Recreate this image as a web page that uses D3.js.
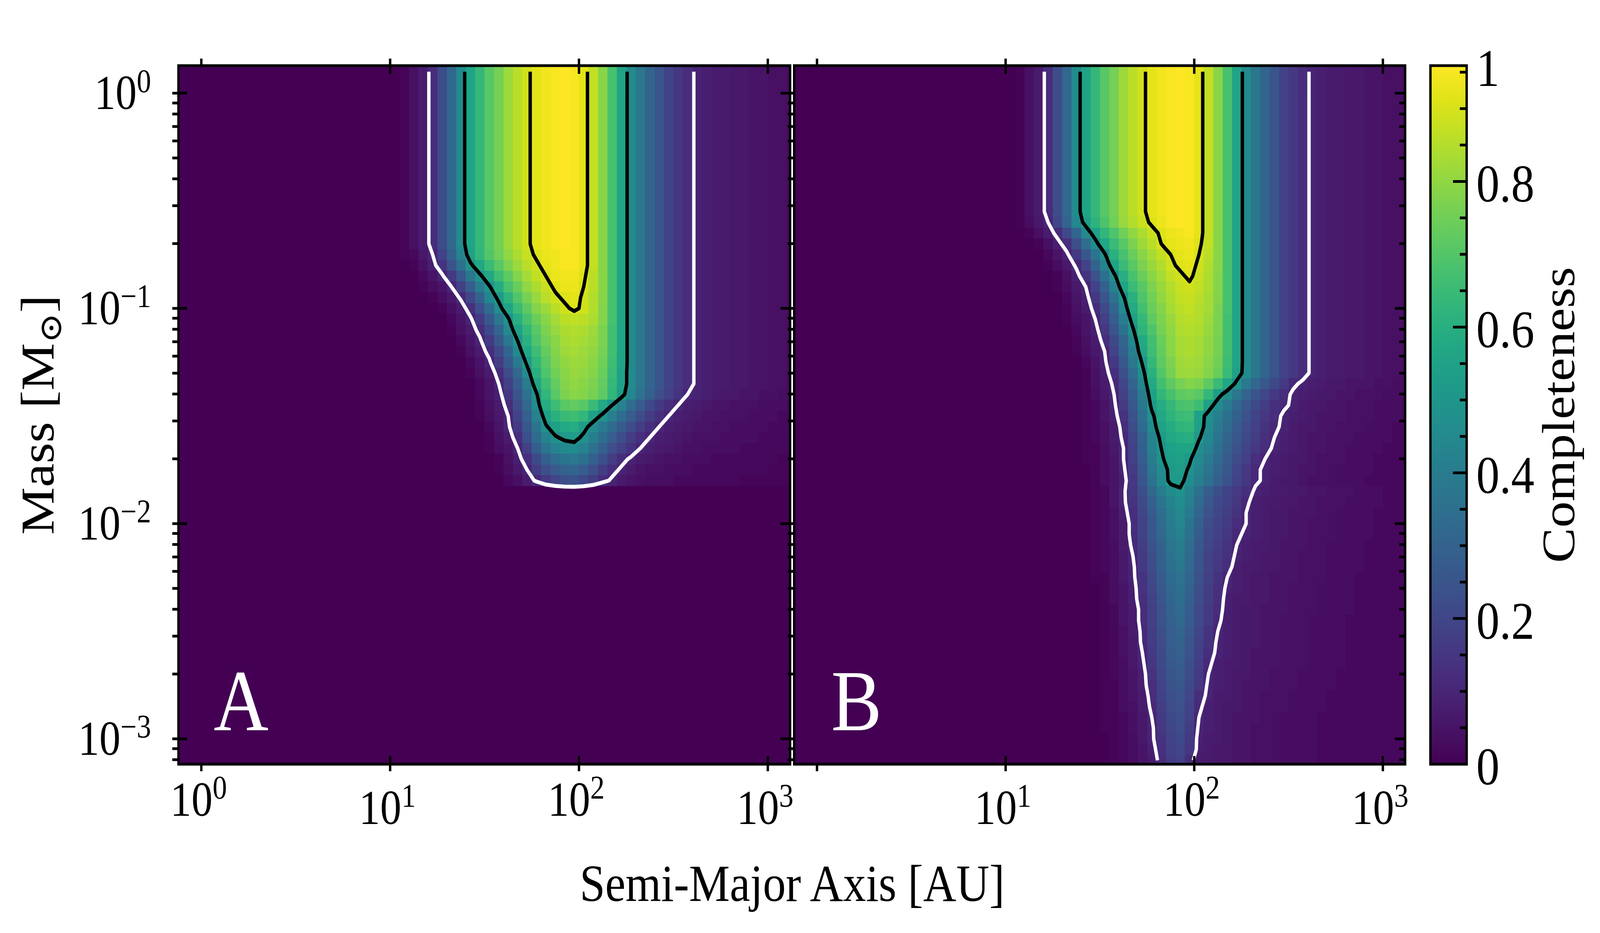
<!DOCTYPE html>
<html>
<head>
<meta charset="utf-8">
<script src="https://cdn.jsdelivr.net/npm/d3@7"></script>
<style>
  html, body { margin: 0; padding: 0; background: #fff; overflow: hidden; }
  svg { display: block; width: 100vw; height: 100vh; }
  text { font-family: "Liberation Serif", "DejaVu Serif", serif; }
</style>
</head>
<body>
<svg id="chart" viewBox="0 0 4680 2388" preserveAspectRatio="none"></svg>
<script>
// completeness grid, values in percent
// columns: semi-major axis bins of 0.05 dex starting at log10(a) = 0.95 (44 bins)
// rows: mass bins of 0.05 dex starting at log10(M) = 0.125 going down (65 bins)
var logAStart = 0.95, logMassTop = 0.125, binStep = 0.05;

var topRow = [0,0,1,4,7,12,22,32,46,56, 64,71,76,82,86,89,92,94,95,96, 95,92,87,79,68,56,46,38,31,25, 19,15,12,9,8,7,7,6,6,5, 5,4,4,3];
var emptyRow = [0,0,0,0,0,0,0,0,0,0, 0,0,0,0,0,0,0,0,0,0, 0,0,0,0,0,0,0,0,0,0, 0,0,0,0,0,0,0,0,0,0, 0,0,0,0];

// panel A: top block, knee rows (-0.75 .. -1.80), empty block below
var rowsA = [
  topRow,
  [0,0,1,2,6,10,19,29,42,55, 63,70,75,80,84,88,91,93,94,95, 95,92,87,79,68,56,46,38,31,25, 19,15,12,9,8,7,7,6,6,5, 5,4,4,3],
  [0,0,0,1,4,8,14,24,35,48, 57,65,71,77,82,86,89,92,94,95, 95,92,87,79,68,56,46,38,31,25, 19,15,12,9,8,7,7,6,6,5, 5,4,4,3],
  [0,0,0,0,2,5,9,16,26,38, 48,57,66,72,78,83,87,90,93,94, 94,91,86,79,68,56,46,38,31,25, 19,15,12,9,8,7,7,6,6,5, 5,4,4,3],
  [0,0,0,0,1,3,5,10,18,28, 40,49,59,68,74,80,84,88,91,93, 93,90,86,79,68,56,46,38,31,25, 19,15,12,9,8,7,7,6,6,5, 5,4,4,3],
  [0,0,0,0,0,1,3,6,11,20, 30,44,52,62,70,76,81,86,89,91, 92,89,85,79,68,56,46,38,31,25, 19,15,12,9,8,7,7,6,6,5, 5,4,4,3],
  [0,0,0,0,0,0,1,4,7,13, 23,33,47,56,65,72,78,82,86,89, 91,89,85,78,68,56,46,38,31,25, 19,15,12,9,8,7,7,6,6,5, 5,4,4,3],
  [0,0,0,0,0,0,0,2,5,9, 16,26,38,49,60,68,74,79,83,86, 87,86,84,78,68,56,46,38,31,25, 19,15,12,9,8,7,7,6,6,5, 5,4,4,3],
  [0,0,0,0,0,0,0,1,4,7, 12,21,31,45,55,64,71,77,81,84, 85,84,82,77,67,56,46,38,31,25, 19,15,12,9,8,7,7,6,6,5, 5,4,4,3],
  [0,0,0,0,0,0,0,0,2,5, 9,16,26,38,50,61,69,75,79,83, 84,83,81,77,67,56,46,38,31,25, 19,15,12,9,8,7,7,6,6,5, 5,4,4,3],
  [0,0,0,0,0,0,0,0,1,4, 7,12,21,31,45,57,66,73,78,82, 83,82,80,76,67,56,46,38,31,25, 19,15,12,9,8,7,7,6,6,5, 5,4,4,3],
  [0,0,0,0,0,0,0,0,0,2, 5,9,17,27,39,52,63,71,77,80, 82,81,79,75,66,56,46,38,31,25, 19,15,12,9,8,7,7,6,6,5, 5,4,4,3],
  [0,0,0,0,0,0,0,0,0,1, 4,7,12,22,32,46,60,69,75,79, 81,80,78,74,65,55,46,38,31,25, 19,15,12,9,8,7,7,6,6,5, 5,4,4,3],
  [0,0,0,0,0,0,0,0,0,0, 2,5,10,18,28,40,56,66,73,78, 80,79,77,73,64,55,46,38,31,25, 19,15,12,9,8,7,7,6,6,5, 5,4,4,3],
  [0,0,0,0,0,0,0,0,0,0, 2,5,8,15,25,36,49,63,71,77, 79,78,76,72,63,53,44,36,29,23, 18,14,10,9,8,7,6,6,5,5, 4,4,3,3],
  [0,0,0,0,0,0,0,0,0,0, 1,4,7,12,22,32,46,59,66,71, 73,71,65,58,50,42,34,27,21,16, 12,10,8,7,6,5,5,4,4,4, 3,3,3,2],
  [0,0,0,0,0,0,0,0,0,0, 1,3,6,10,19,29,42,54,61,65, 66,63,55,48,41,34,28,22,17,13, 10,8,7,6,5,5,4,4,4,3, 3,3,2,2],
  [0,0,0,0,0,0,0,0,0,0, 0,2,5,9,16,26,37,49,55,58, 59,53,46,39,33,27,22,17,13,10, 8,7,6,5,5,4,4,3,3,3, 3,2,2,2],
  [0,0,0,0,0,0,0,0,0,0, 0,1,4,7,13,23,33,43,49,52, 53,48,41,34,28,22,17,13,10,8, 7,6,5,4,4,4,3,3,3,3, 2,2,2,2],
  [0,0,0,0,0,0,0,0,0,0, 0,1,3,5,10,18,28,37,42,45, 46,42,36,29,23,18,14,10,8,7, 6,5,4,4,3,3,3,3,2,2, 2,2,2,2],
  [0,0,0,0,0,0,0,0,0,0, 0,0,1,4,8,13,21,29,34,37, 38,35,29,23,17,12,9,7,6,5, 4,4,3,3,3,2,2,2,2,2, 2,2,1,1],
  [0,0,0,0,0,0,0,0,0,0, 0,0,1,3,6,10,17,23,27,30, 31,28,23,17,12,9,7,5,4,4, 3,3,3,2,2,2,2,2,2,2, 2,1,1,1],
  [0,0,0,0,0,0,0,0,0,0, 0,0,0,2,4,7,11,16,20,23, 24,21,17,12,9,6,5,4,3,3, 3,2,2,2,2,2,2,2,1,1, 1,1,1,1],
  emptyRow
];
var binsA = [17, 1,1,1,1,1,1,1,1,1,1,1, 1,1,1,1,1,1,1,1,1,1,1, 26];

// panel B: top block, then rows -0.60 .. -3.10
var rowsB = [
  topRow,
  [0,0,1,3,6,10,20,30,44,53, 62,69,75,81,85,88,91,93,95,96, 95,92,87,79,68,56,46,38,31,25, 19,15,12,9,8,7,7,6,6,5, 5,4,4,3],
  [0,0,0,1,4,7,12,21,31,45, 54,63,69,75,80,84,88,91,93,94, 95,92,87,79,68,56,46,38,31,25, 19,15,12,9,8,7,7,6,6,5, 5,4,4,3],
  [0,0,0,0,1,4,8,13,23,34, 47,57,65,71,77,82,86,90,92,93, 94,91,87,79,68,56,46,38,31,25, 19,15,12,9,8,7,7,6,6,5, 5,4,4,3],
  [0,0,0,0,0,2,5,9,16,26, 37,49,61,68,74,79,83,87,90,92, 93,90,86,79,68,56,46,38,31,25, 19,15,12,9,8,7,7,6,6,5, 5,4,4,3],
  [0,0,0,0,0,1,3,6,11,19, 30,43,56,65,71,77,81,85,89,91, 92,89,85,79,68,56,46,38,31,25, 19,15,12,9,8,7,7,6,6,5, 5,4,4,3],
  [0,0,0,0,0,0,1,4,8,14, 24,35,48,60,68,74,79,83,87,89, 91,88,84,78,68,56,46,38,31,25, 19,15,12,9,8,7,7,6,6,5, 5,4,4,3],
  [0,0,0,0,0,0,1,3,6,10, 19,29,42,56,65,71,77,81,85,88, 89,87,84,78,68,56,46,38,31,25, 19,15,12,9,8,7,7,6,6,5, 5,4,4,3],
  [0,0,0,0,0,0,0,2,5,8, 15,25,36,49,61,69,75,80,84,87, 88,86,83,78,68,56,46,38,31,25, 19,15,12,9,8,7,7,6,6,5, 5,4,4,3],
  [0,0,0,0,0,0,0,1,4,7, 12,21,31,45,58,67,74,78,83,86, 87,85,83,77,68,56,46,38,31,25, 19,15,12,9,8,7,7,6,6,5, 5,4,4,3],
  [0,0,0,0,0,0,0,1,3,5, 10,18,28,40,54,64,72,77,81,85, 86,85,82,77,67,56,46,38,31,25, 19,15,12,9,8,7,7,6,6,5, 5,4,4,3],
  [0,0,0,0,0,0,0,0,2,5, 8,15,25,36,49,62,69,76,80,84, 85,84,81,77,67,56,46,38,31,25, 19,15,12,9,8,7,7,6,6,5, 5,4,4,3],
  [0,0,0,0,0,0,0,0,1,4, 7,12,21,31,45,58,67,74,79,83, 84,83,80,76,67,56,46,38,31,25, 19,15,12,9,8,7,7,6,6,5, 5,4,4,3],
  [0,0,0,0,0,0,0,0,1,3, 6,10,19,29,41,56,66,73,79,83, 84,83,80,76,67,56,46,38,31,25, 19,15,12,9,8,7,7,6,6,5, 5,4,4,3],
  [0,0,0,0,0,0,0,0,0,2, 5,9,16,26,38,51,64,72,77,82, 83,82,79,75,66,56,46,38,31,25, 19,15,12,9,8,7,7,6,6,5, 5,4,4,3],
  [0,0,0,0,0,0,0,0,0,1, 4,8,13,23,34,47,61,70,76,81, 82,81,78,74,65,55,46,38,31,25, 19,15,12,9,8,7,7,6,6,5, 5,4,4,3],
  [0,0,0,0,0,0,0,0,0,1, 4,7,11,20,31,44,58,67,72,76, 78,77,72,65,57,48,39,32,26,21, 16,11,9,8,7,6,6,5,5,5, 4,4,3,3],
  [0,0,0,0,0,0,0,0,0,1, 3,6,10,18,28,40,55,63,68,72, 73,71,64,53,46,38,31,25,20,16, 12,9,8,7,6,6,5,5,4,4, 4,3,3,3],
  [0,0,0,0,0,0,0,0,0,1, 2,5,9,16,26,38,52,59,64,68, 69,66,54,46,39,32,26,21,17,13, 11,9,7,6,6,5,5,4,4,4, 3,3,3,2],
  [0,0,0,0,0,0,0,0,0,1, 2,5,8,14,24,35,48,57,62,65, 66,54,47,41,35,29,24,19,15,12, 9,8,7,6,5,5,5,4,4,4, 3,3,3,2],
  [0,0,0,0,0,0,0,0,0,1, 2,4,7,12,22,33,46,55,59,62, 63,54,46,39,33,27,22,18,14,11, 9,7,6,6,5,5,4,4,4,3, 3,3,2,2],
  [0,0,0,0,0,0,0,0,0,1, 2,4,7,11,20,30,43,52,57,59, 60,51,44,37,31,26,21,17,13,10, 8,7,6,5,5,4,4,4,3,3, 3,3,2,2],
  [0,0,0,0,0,0,0,0,0,1, 1,3,6,10,19,29,42,50,54,56, 56,47,42,35,29,24,19,15,12,9, 8,7,6,5,5,4,4,3,3,3, 3,2,2,2],
  [0,0,0,0,0,0,0,0,0,1, 1,3,5,10,18,28,40,49,53,55, 51,45,39,33,27,22,18,13,10,8, 7,6,6,5,4,4,4,3,3,3, 2,2,2,2],
  [0,0,0,0,0,0,0,0,0,0, 1,3,5,9,16,26,38,46,52,53, 49,43,37,31,26,20,15,11,9,8, 7,6,5,5,4,4,3,3,3,3, 2,2,2,2],
  [0,0,0,0,0,0,0,0,0,0, 1,3,5,8,15,25,36,45,52,52, 47,41,35,29,24,19,15,11,9,7, 6,6,5,4,4,4,3,3,3,2, 2,2,2,2],
  [0,0,0,0,0,0,0,0,0,0, 1,2,5,9,15,23,32,40,46,49, 43,35,28,23,19,16,13,9,8,7, 7,6,6,5,5,4,4,4,3,3, 3,2,2,2],
  [0,0,0,0,0,0,0,0,0,0, 1,2,5,9,14,21,29,37,43,47, 41,33,26,21,18,15,11,8,7,7, 6,6,5,5,4,4,4,3,3,3, 3,2,2,2],
  [0,0,0,0,0,0,0,0,0,0, 1,2,4,8,13,20,27,34,41,45, 39,31,24,20,17,14,10,8,7,6, 6,5,5,5,4,4,3,3,3,3, 2,2,2,2],
  [0,0,0,0,0,0,0,0,0,0, 1,2,4,7,12,19,26,33,40,44, 37,29,22,19,16,12,10,8,7,6, 6,5,5,4,4,4,3,3,3,3, 2,2,2,2],
  [0,0,0,0,0,0,0,0,0,0, 1,2,4,7,12,19,26,32,39,42, 36,27,21,18,15,11,9,8,7,6, 6,5,5,4,4,4,3,3,3,3, 2,2,2,2],
  [0,0,0,0,0,0,0,0,0,0, 1,2,3,7,11,17,24,30,37,40, 34,26,20,17,14,10,8,7,7,6, 5,5,5,4,4,3,3,3,3,2, 2,2,2,2],
  [0,0,0,0,0,0,0,0,0,0, 1,2,3,6,10,16,23,29,36,39, 33,25,19,16,13,9,8,7,6,6, 5,5,4,4,4,3,3,3,3,2, 2,2,2,2],
  [0,0,0,0,0,0,0,0,0,0, 1,2,3,6,9,16,22,29,35,38, 32,25,19,15,12,8,7,7,6,6, 5,5,4,4,4,3,3,3,3,2, 2,2,2,2],
  [0,0,0,0,0,0,0,0,0,0, 1,1,3,6,9,14,21,27,33,36, 31,24,18,14,10,8,7,6,6,5, 5,5,4,4,4,3,3,3,2,2, 2,2,2,2],
  [0,0,0,0,0,0,0,0,0,0, 0,1,3,5,8,14,20,26,32,35, 30,23,17,13,9,8,7,6,6,5, 5,4,4,4,3,3,3,3,2,2, 2,2,2,2],
  [0,0,0,0,0,0,0,0,0,0, 0,1,3,5,8,13,19,25,31,34, 29,22,17,13,8,7,7,6,6,5, 5,4,4,4,3,3,3,3,2,2, 2,2,2,2],
  [0,0,0,0,0,0,0,0,0,0, 0,1,2,5,7,12,18,24,30,33, 28,21,16,12,8,7,6,6,5,5, 5,4,4,4,3,3,3,3,2,2, 2,2,2,2],
  [0,0,0,0,0,0,0,0,0,0, 0,1,2,5,7,12,18,24,29,32, 27,21,16,11,8,7,6,6,5,5, 4,4,4,3,3,3,3,2,2,2, 2,2,2,2],
  [0,0,0,0,0,0,0,0,0,0, 0,1,2,4,7,11,17,23,28,31, 26,20,14,10,8,7,6,6,5,5, 4,4,4,3,3,3,3,2,2,2, 2,2,2,2],
  [0,0,0,0,0,0,0,0,0,0, 0,1,2,4,6,11,17,22,28,30, 25,19,14,9,8,7,6,6,5,5, 4,4,4,3,3,3,3,2,2,2, 2,2,2,2],
  [0,0,0,0,0,0,0,0,0,0, 0,1,2,4,6,10,16,21,27,29, 24,18,12,9,8,7,6,5,5,5, 4,4,4,3,3,3,3,2,2,2, 2,2,2,2],
  [0,0,0,0,0,0,0,0,0,0, 0,1,2,3,6,9,15,21,26,28, 23,17,11,8,7,7,6,5,5,5, 4,4,4,3,3,3,3,2,2,2, 2,2,2,2],
  [0,0,0,0,0,0,0,0,0,0, 0,1,2,3,5,8,14,20,25,27, 22,16,10,8,7,6,6,5,5,4, 4,4,3,3,3,3,2,2,2,2, 2,2,2,2],
  [0,0,0,0,0,0,0,0,0,0, 0,1,1,3,5,8,13,19,24,26, 21,15,9,8,7,6,5,5,5,4, 4,4,3,3,3,3,2,2,2,2, 2,2,2,2],
  [0,0,0,0,0,0,0,0,0,0, 0,1,1,3,5,7,12,18,23,25, 20,12,9,7,7,6,5,5,4,4, 4,3,3,3,3,2,2,2,2,2, 2,2,2,2],
  [0,0,0,0,0,0,0,0,0,0, 0,1,1,3,4,7,11,17,22,24, 19,11,8,7,6,6,5,5,4,4, 4,3,3,3,3,2,2,2,2,2, 2,2,2,2],
  [0,0,0,0,0,0,0,0,0,0, 0,1,1,2,4,6,10,16,21,23, 18,10,8,7,6,5,5,5,4,4, 3,3,3,3,2,2,2,2,2,2, 2,2,2,2],
  [0,0,0,0,0,0,0,0,0,0, 0,1,1,2,4,6,9,15,20,22, 17,9,8,7,6,5,5,4,4,4, 3,3,3,3,2,2,2,2,2,2, 2,2,2,2],
  [0,0,0,0,0,0,0,0,0,0, 0,0,1,2,3,6,9,14,19,21, 16,8,7,7,6,5,5,4,4,4, 3,3,3,3,2,2,2,2,2,2, 2,2,2,2],
  [0,0,0,0,0,0,0,0,0,0, 0,0,1,2,3,5,8,13,18,20, 15,8,7,6,6,5,5,4,4,4, 3,3,3,3,2,2,2,2,2,2, 2,2,2,2],
  [0,0,0,0,0,0,0,0,0,0, 0,0,1,2,3,5,7,12,17,19, 12,7,7,6,6,5,5,4,4,4, 3,3,3,3,2,2,2,2,2,2, 2,2,2,2]
];
var binsB = [14, 1,1,1,1,1,1,1,1,1,1, 1,1,1,1,1,1,1,1,1,1, 1,1,1,1,1,1,1,1,1,1,
  1,1,1,1,1,1,1,1,1,1, 1,1,1,1,1,1,1,1,1,1, 1];

var contourLevels = [10, 50, 90];
var contourColors = ['#ffffff', '#000000', '#000000'];
var xTickExpA = [0, 1, 2, 3];
var xTickExpB = [1, 2, 3];
var yTickExp = [0, -1, -2, -3];
var cbarTicks = [0, 0.2, 0.4, 0.6, 0.8];
var cbarMax = 0.959;
var panelLetters = ['A', 'B'];

(function(){
var svg = d3.select('#chart');
var nCols = topRow.length, nRows = 65;
var plotTop = 168, plotBottom = 1956;
var panels = [
  {x0: 522, x1: 2311, rows: rowsA, bins: binsA, xExp: xTickExpA, letter: panelLetters[0], lx: 625},
  {x0: 2323, x1: 4110, rows: rowsB, bins: binsB, xExp: xTickExpB, letter: panelLetters[1], lx: 2431}
];

var y = d3.scaleLog().domain([Math.pow(10, -3.118), Math.pow(10, 0.128)]).range([plotBottom, plotTop]);
var color = function(v){ return d3.interpolateViridis(Math.min(1, v / (cbarMax * 100))); };

function expandRows(rows, bins) {
  var out = [];
  rows.forEach(function(r, k){ for (var b = 0; b < bins[k]; b++) out.push(r); });
  return out;
}

// cut the closed contour rings where they run along the grid border,
// and let the open ends stop at the outermost row of samples
function openLines(ring, nx, ny) {
  var pts = ring.slice();
  var f = pts[0], l = pts[pts.length - 1];
  if (f[0] === l[0] && f[1] === l[1]) pts.pop();
  var n = pts.length;
  function onEdge(a) { return a[0] === 0 || a[0] === nx || a[1] === 0 || a[1] === ny; }
  function isBreak(k) {
    var a = pts[k], b = pts[(k + 1) % n];
    return (a[0] === 0 && b[0] === 0) || (a[0] === nx && b[0] === nx) ||
           (a[1] === 0 && b[1] === 0) || (a[1] === ny && b[1] === ny);
  }
  var start = -1;
  for (var k = 0; k < n; k++) { if (isBreak(k)) { start = k; break; } }
  if (start < 0) { pts.push(pts[0]); return [pts]; }
  var lines = [], cur = [];
  function flush() {
    while (cur.length > 2 && onEdge(cur[0])) cur.shift();
    while (cur.length > 2 && onEdge(cur[cur.length - 1])) cur.pop();
    if (cur.length > 1) lines.push(cur);
    cur = [];
  }
  for (var s = 1; s <= n; s++) {
    var kk = (start + s) % n;
    if (isBreak(kk)) { flush(); }
    else { if (!cur.length) cur.push(pts[kk]); cur.push(pts[(kk + 1) % n]); }
  }
  flush();
  return lines;
}

var defs = svg.append('defs');

panels.forEach(function(p, pi){
  var x = d3.scaleLog().domain([Math.pow(10, -0.121), Math.pow(10, 3.118)]).range([p.x0, p.x1]);
  var clipId = 'clip' + pi;
  defs.append('clipPath').attr('id', clipId)
    .append('rect').attr('x', p.x0).attr('y', plotTop).attr('width', p.x1 - p.x0).attr('height', plotBottom - plotTop);

  var g = svg.append('g').attr('clip-path', 'url(#' + clipId + ')');
  g.append('rect').attr('x', p.x0).attr('y', plotTop).attr('width', p.x1 - p.x0).attr('height', plotBottom - plotTop)
    .attr('fill', color(0));

  // heatmap cells, one rect per column per block row
  var edge = logMassTop;
  var cells = [];
  p.rows.forEach(function(r, k){
    var lo = edge - binStep * p.bins[k];
    r.forEach(function(v, i){ cells.push({v: v, i: i, mTop: edge, mBot: lo}); });
    edge = lo;
  });
  g.selectAll('rect.cell').data(cells).enter().append('rect')
    .attr('class', 'cell')
    .attr('x', function(d){ return x(Math.pow(10, logAStart + binStep * d.i)); })
    .attr('width', function(d){ return x(Math.pow(10, logAStart + binStep * (d.i + 1))) - x(Math.pow(10, logAStart + binStep * d.i)) + 0.6; })
    .attr('y', function(d){ return y(Math.pow(10, d.mTop)); })
    .attr('height', function(d){ return y(Math.pow(10, d.mBot)) - y(Math.pow(10, d.mTop)) + 0.6; })
    .attr('fill', function(d){ return color(d.v); })
    .attr('shape-rendering', 'crispEdges');

  // contours
  var grid = expandRows(p.rows, p.bins);
  var flat = [];
  grid.forEach(function(r){ r.forEach(function(v){ flat.push(v); }); });
  var polys = d3.contours().size([nCols, nRows]).thresholds(contourLevels)(flat);
  var toPx = function(pt){
    return [x(Math.pow(10, logAStart + binStep * pt[0])), y(Math.pow(10, logMassTop - binStep * pt[1]))];
  };
  var line = d3.line();
  polys.forEach(function(mp, li){
    mp.coordinates.forEach(function(poly){
      poly.forEach(function(ring){
        openLines(ring, nCols, nRows).forEach(function(seg){
          g.append('path').attr('d', line(seg.map(toPx)))
            .attr('fill', 'none').attr('stroke', contourColors[li])
            .attr('stroke-width', 10).attr('stroke-linejoin', 'round');
        });
      });
    });
  });

  g.append('text').attr('x', p.lx).attr('y', 1869).attr('fill', '#fff')
    .attr('font-size', 222).text(p.letter);

  // frame
  svg.append('rect').attr('x', p.x0).attr('y', plotTop).attr('width', p.x1 - p.x0).attr('height', plotBottom - plotTop)
    .attr('fill', 'none').attr('stroke', '#000').attr('stroke-width', 7);

  var ax = svg.append('g').attr('stroke', '#000').attr('stroke-width', 7);
  // x ticks, top and bottom
  [0, 1, 2, 3].forEach(function(e){
    var xv = x(Math.pow(10, e));
    var inLen = e === 0 ? 0 : 21;
    ax.append('line').attr('x1', xv).attr('x2', xv).attr('y1', plotBottom + 18).attr('y2', plotBottom - inLen);
    ax.append('line').attr('x1', xv).attr('x2', xv).attr('y1', plotTop - 18).attr('y2', plotTop + inLen);
  });
  // y ticks
  var majors = yTickExp.map(function(e){ return Math.pow(10, e); });
  var minors = [];
  [-4, -3, -2, -1, 0].forEach(function(e){
    for (var m = 2; m <= 9; m++) {
      var v = m * Math.pow(10, e);
      if (v > y.domain()[0] && v < y.domain()[1]) minors.push(v);
    }
  });
  if (pi === 0) {
    majors.forEach(function(v){
      ax.append('line').attr('x1', p.x0 - 18).attr('x2', p.x0 + 25).attr('y1', y(v)).attr('y2', y(v));
      ax.append('line').attr('x1', p.x1).attr('x2', p.x1 - 28).attr('y1', y(v)).attr('y2', y(v));
    });
    minors.forEach(function(v){
      ax.append('line').attr('x1', p.x0 - 18).attr('x2', p.x0).attr('y1', y(v)).attr('y2', y(v));
    });
  } else {
    majors.forEach(function(v){
      ax.append('line').attr('x1', p.x0 - 19).attr('x2', p.x0).attr('y1', y(v)).attr('y2', y(v));
      ax.append('line').attr('x1', p.x1).attr('x2', p.x1 - 30).attr('y1', y(v)).attr('y2', y(v));
    });
    minors.forEach(function(v){
      ax.append('line').attr('x1', p.x0 - 19).attr('x2', p.x0).attr('y1', y(v)).attr('y2', y(v));
      ax.append('line').attr('x1', p.x1).attr('x2', p.x1 - 17).attr('y1', y(v)).attr('y2', y(v));
    });
  }

  // x tick labels
  p.xExp.forEach(function(e){
    var t = svg.append('text').attr('x', x(Math.pow(10, e)) - 8)
      .attr('y', e % 2 === 0 ? 2088 : 2109)
      .attr('text-anchor', 'middle').attr('font-size', 124);
    t.append('tspan').text('10');
    t.append('tspan').attr('dy', -44).attr('font-size', 84).text(e);
  });
});

// y tick labels
yTickExp.forEach(function(e){
  var t = svg.append('text').attr('x', 442).attr('y', y(Math.pow(10, e)) + 41)
    .attr('text-anchor', 'end').attr('font-size', 124);
  t.append('tspan').text('10');
  t.append('tspan').attr('dy', -44).attr('font-size', 84).text(e < 0 ? '\u2212' + (-e) : e);
});

// axis labels
var ylab = svg.append('text').attr('transform', 'translate(157,1062) rotate(-90)')
  .attr('text-anchor', 'middle').attr('font-size', 137);
ylab.append('tspan').text('Mass [M');
ylab.append('tspan').attr('dy', 22).attr('font-size', 92).text('\u2299');
ylab.append('tspan').attr('dy', -22).text(']');

svg.append('text').attr('x', 2317).attr('y', 2306).attr('text-anchor', 'middle')
  .attr('font-size', 134).text('Semi-Major Axis [AU]');

// colorbar
var cb = {x0: 4184, x1: 4290};
var cy = d3.scaleLinear().domain([0, cbarMax]).range([plotBottom, plotTop]);
var grad = defs.append('linearGradient').attr('id', 'cbgrad')
  .attr('x1', 0).attr('y1', 1).attr('x2', 0).attr('y2', 0);
d3.range(0, 1.0001, 0.05).forEach(function(t){
  grad.append('stop').attr('offset', t).attr('stop-color', d3.interpolateViridis(t));
});
svg.append('rect').attr('x', cb.x0).attr('y', plotTop).attr('width', cb.x1 - cb.x0).attr('height', plotBottom - plotTop)
  .attr('fill', 'url(#cbgrad)').attr('stroke', '#000').attr('stroke-width', 7);
var cax = svg.append('g').attr('stroke', '#000').attr('stroke-width', 7);
d3.range(0.05, cbarMax, 0.05).forEach(function(v){
  var major = Math.abs(v * 5 - Math.round(v * 5)) < 1e-6;
  cax.append('line').attr('x1', cb.x1).attr('x2', cb.x1 - (major ? 40 : 20))
    .attr('y1', cy(v)).attr('y2', cy(v));
});
cbarTicks.forEach(function(v){
  svg.append('text').attr('x', 4318).attr('y', cy(v) + 52).attr('font-size', 136).text(v === 0 ? '0' : v);
});
svg.append('text').attr('x', 4318).attr('y', plotTop + 52).attr('font-size', 136).text('1');
svg.append('text').attr('transform', 'translate(4605,1062) rotate(-90)')
  .attr('text-anchor', 'middle').attr('font-size', 135).text('Completeness');
})();
</script>
</body>
</html>
